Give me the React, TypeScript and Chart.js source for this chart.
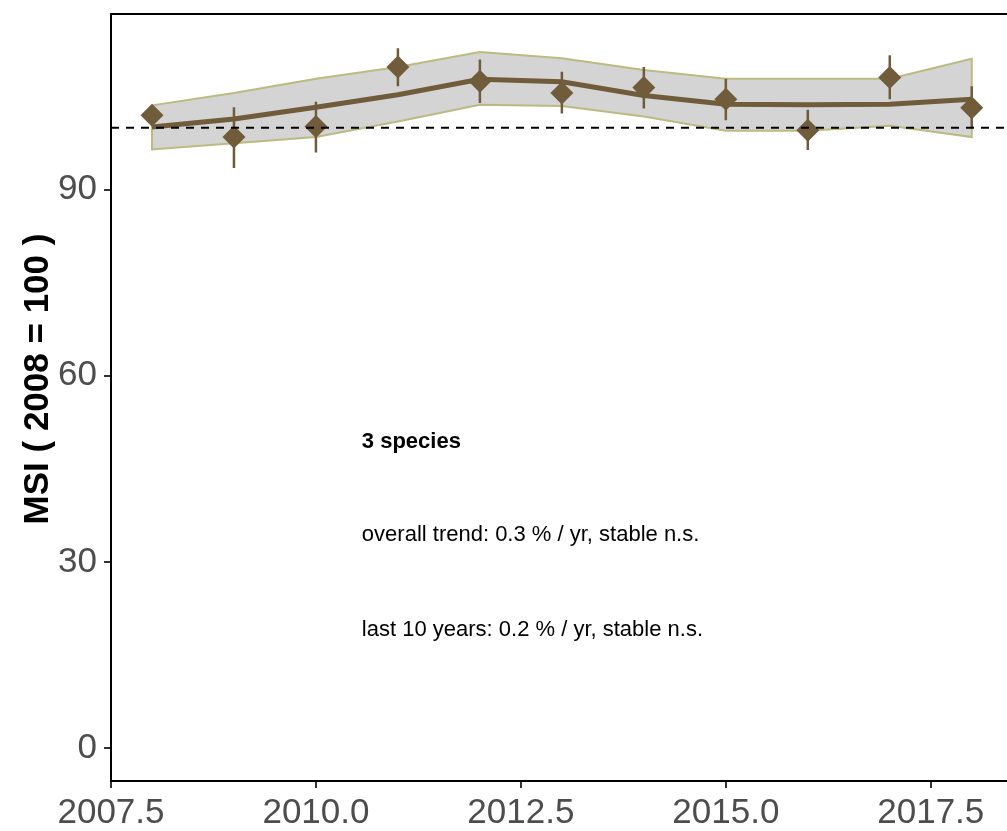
import React, { useEffect, useRef } from 'react';
import { Chart, registerables } from 'chart.js';

Chart.register(...registerables);

// ---- data ----
const years = [2008, 2009, 2010, 2011, 2012, 2013, 2014, 2015, 2016, 2017, 2018];
const msi = [102.0, 98.5, 100.2, 109.8, 107.5, 105.6, 106.5, 104.6, 99.6, 108.1, 103.2];
const errLow = [102.0, 93.5, 96.0, 106.7, 104.0, 102.3, 103.1, 101.2, 96.4, 104.6, 99.9];
const errHigh = [102.0, 103.3, 104.2, 112.8, 111.0, 109.0, 109.8, 107.9, 102.9, 111.7, 106.7];
const trend = [100.1, 101.4, 103.3, 105.3, 107.8, 107.4, 105.2, 103.8, 103.7, 103.8, 104.6];
const bandUpper = [103.6, 105.6, 107.9, 109.8, 112.2, 111.2, 109.3, 107.9, 107.9, 107.9, 111.1];
const bandLower = [96.5, 97.5, 98.5, 101.0, 103.7, 103.5, 101.8, 99.5, 99.5, 100.3, 98.5];
const refValue = 100;

const xTicks = [2007.5, 2010, 2012.5, 2015, 2017.5];
const yTicks = [0, 30, 60, 90];

const yTitle = 'MSI ( 2008 = 100 )';
const annoTexts = ['3 species', 'overall trend: 0.3 % / yr, stable n.s.', 'last 10 years: 0.2 % / yr, stable n.s.'];
const annoBold = [true, false, false];
const annoX = 2010.56;
const annoY = [48.4, 33.3, 18.0];

const X_MIN = 2007.5;
const X_MAX = 2018.43;
const Y_MIN = -5.32;
const Y_MAX = 118.33;

const FONT = '"Liberation Sans", Arial, Helvetica, sans-serif';
const BROWN = '#705c3b';

export default function App() {
  const ref = useRef<HTMLCanvasElement | null>(null);

  useEffect(() => {
    if (!ref.current) return;

    const bandPolygon = [
      ...years.map((x, i) => ({ x, y: bandUpper[i] })),
      ...years.map((x, i) => ({ x, y: bandLower[i] })).reverse(),
      { x: years[0], y: bandUpper[0] },
    ];
    const trendPts = years.map((x, i) => ({ x, y: trend[i] }));
    const errPts = years.flatMap((x, i) => [
      { x, y: errLow[i] },
      { x, y: errHigh[i] },
      { x, y: null as any },
    ]);
    const msiPts = years.map((x, i) => ({ x, y: msi[i] }));

    const overlay = {
      id: 'overlay',
      afterDraw(chart: any) {
        const { ctx, chartArea, scales } = chart;
        ctx.save();
        // top panel border
        ctx.strokeStyle = '#000';
        ctx.lineWidth = 2;
        ctx.beginPath();
        ctx.moveTo(chartArea.left - 1, chartArea.top);
        ctx.lineTo(chartArea.right, chartArea.top);
        ctx.stroke();
        // annotations
        ctx.fillStyle = '#000';
        ctx.textAlign = 'left';
        ctx.textBaseline = 'alphabetic';
        annoTexts.forEach((t, i) => {
          ctx.font = `${annoBold[i] ? 'bold ' : ''}22px ${FONT}`;
          ctx.fillText(t, scales.x.getPixelForValue(annoX), scales.y.getPixelForValue(annoY[i]));
        });
        // y title
        ctx.font = `bold 35px ${FONT}`;
        ctx.textAlign = 'center';
        ctx.translate(48, 379);
        ctx.rotate(-Math.PI / 2);
        ctx.fillText(yTitle, 0, 0);
        ctx.restore();
      },
    };

    const chart = new Chart(ref.current, {
      type: 'scatter',
      data: {
        datasets: [
          {
            label: 'band',
            data: bandPolygon,
            showLine: true,
            fill: 'shape',
            backgroundColor: '#d4d4d4',
            borderColor: '#b9bb80',
            borderWidth: 2,
            pointRadius: 0,
            order: 4,
          } as any,
          {
            label: 'trend',
            data: trendPts,
            showLine: true,
            borderColor: BROWN,
            borderWidth: 5,
            pointRadius: 0,
            order: 3,
          },
          {
            label: 'se',
            data: errPts,
            showLine: true,
            spanGaps: false,
            borderColor: BROWN,
            borderWidth: 2.5,
            pointRadius: 0,
            order: 2,
          },
          {
            label: 'msi',
            data: msiPts,
            showLine: false,
            pointStyle: 'rectRot',
            pointRadius: 11.5,
            backgroundColor: BROWN,
            borderWidth: 0,
            order: 1,
          },
          {
            label: 'ref',
            data: [
              { x: X_MIN, y: refValue },
              { x: X_MAX, y: refValue },
            ],
            showLine: true,
            borderColor: '#000',
            borderWidth: 2,
            borderDash: [8, 7],
            pointRadius: 0,
            order: 0,
          },
        ],
      },
      options: {
        animation: false,
        responsive: true,
        maintainAspectRatio: false,
        events: [],
        layout: { autoPadding: false, padding: { top: 14, left: 0, right: 0, bottom: 0 } },
        plugins: { legend: { display: false }, tooltip: { enabled: false } },
        scales: {
          x: {
            type: 'linear',
            min: X_MIN,
            max: X_MAX,
            afterBuildTicks: (s: any) => {
              s.ticks = xTicks.map((v) => ({ value: v }));
            },
            afterFit: (s: any) => {
              s.height = 50;
              s.paddingLeft = 0;
              s.paddingRight = 0;
              s.paddingTop = 0;
              s.paddingBottom = 0;
            },
            grid: { display: true, drawOnChartArea: false, drawTicks: true, tickLength: 7, color: '#333', lineWidth: 2 },
            border: { display: true, color: '#000', width: 2 },
            ticks: {
              color: '#4d4d4d',
              font: { family: FONT, size: 35 },
              padding: 4,
              maxRotation: 0,
              autoSkip: false,
              callback: (v: any) => Number(v).toFixed(1),
            },
          },
          y: {
            type: 'linear',
            min: Y_MIN,
            max: Y_MAX,
            afterBuildTicks: (s: any) => {
              s.ticks = yTicks.map((v) => ({ value: v }));
            },
            afterFit: (s: any) => {
              s.width = 111;
              s.paddingLeft = 0;
              s.paddingRight = 0;
              s.paddingTop = 0;
              s.paddingBottom = 0;
            },
            grid: { display: true, drawOnChartArea: false, drawTicks: true, tickLength: 7, color: '#333', lineWidth: 2 },
            border: { display: true, color: '#000', width: 2 },
            ticks: {
              color: '#4d4d4d',
              font: { family: FONT, size: 35 },
              padding: 7,
              autoSkip: false,
              callback: (v: any) => String(v),
            },
          },
        },
      },
      plugins: [overlay],
    });

    return () => chart.destroy();
  }, []);

  return (
    <div style={{ position: 'fixed', left: 0, top: 0, width: 1007, height: 831, background: '#fff' }}>
      <canvas ref={ref} />
    </div>
  );
}
